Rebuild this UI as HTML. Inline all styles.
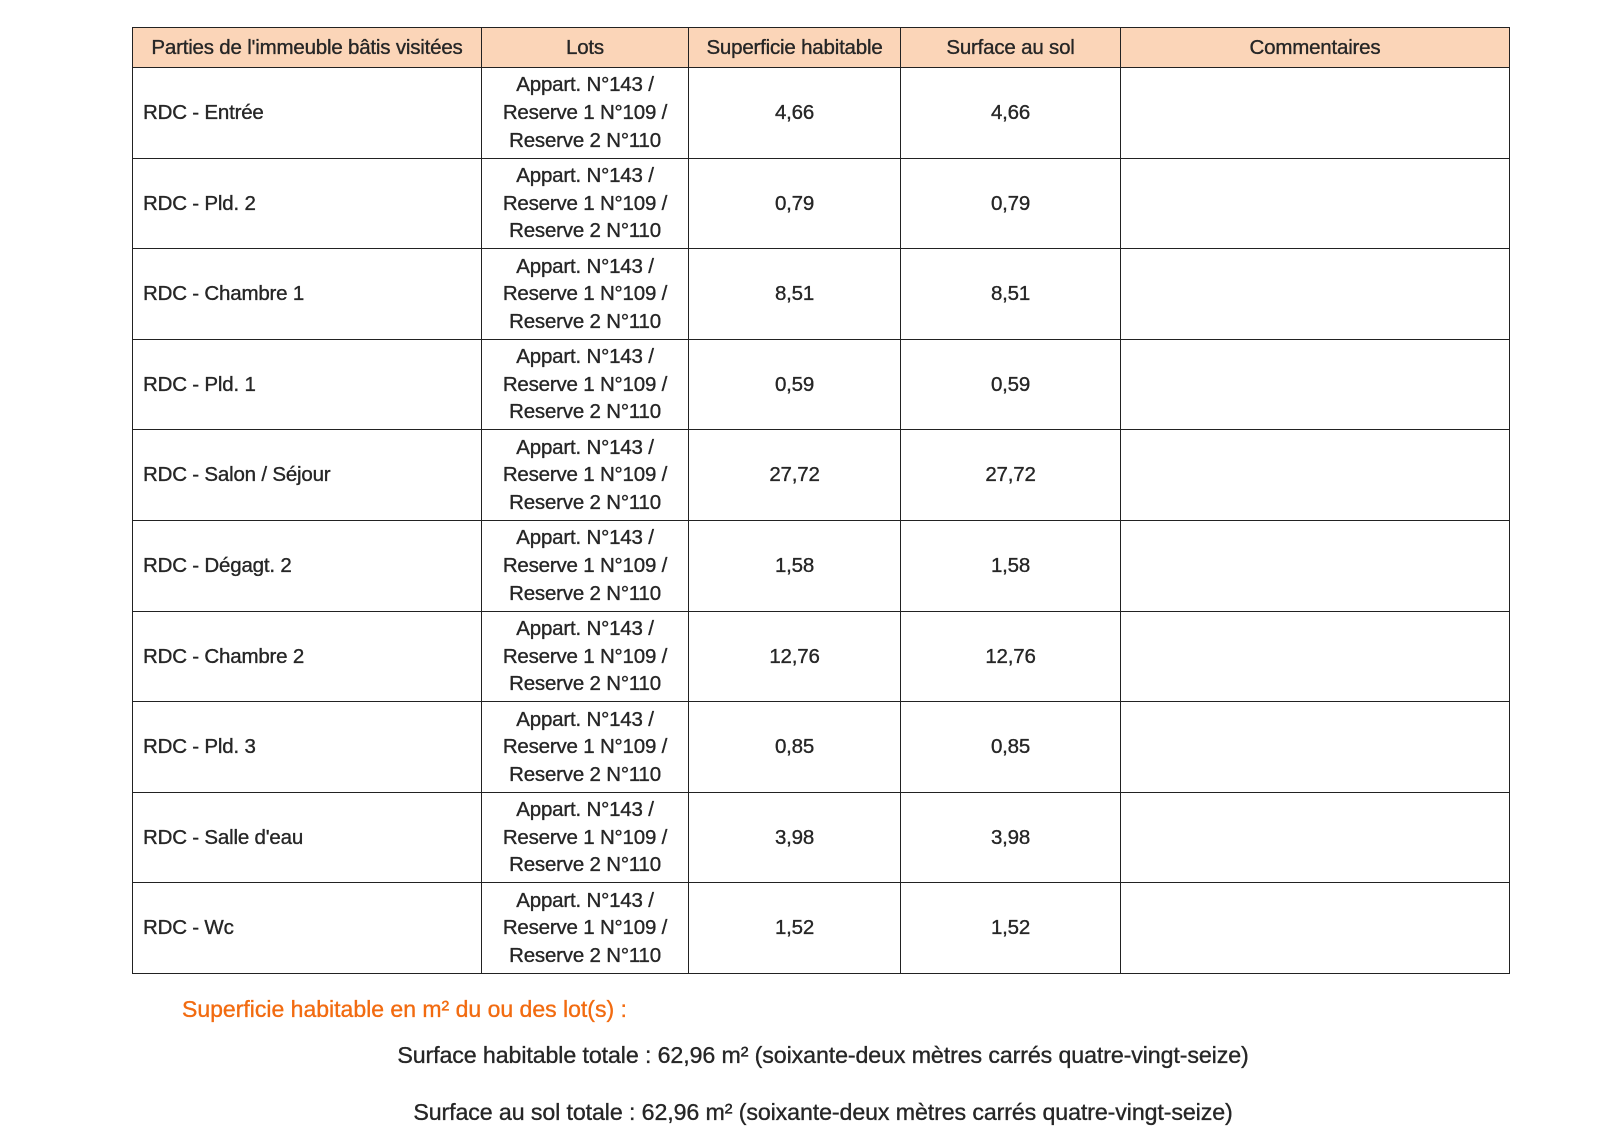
<!DOCTYPE html>
<html><head><meta charset="utf-8"><style>
body{margin:0;width:1600px;height:1133px;background:#fff;position:relative;font-family:"Liberation Sans",sans-serif;color:#262626;overflow:hidden;-webkit-text-stroke:0.35px #262626}
table{position:absolute;left:132px;top:27px;border-collapse:collapse;table-layout:fixed;width:1377px}
td,th{border:1.5px solid #222;padding:0;font-size:20.5px;letter-spacing:-0.2px;line-height:27.6px;text-align:center;font-weight:normal}
th{background:#fbd5b8;height:39px}
td{height:89.6px}
td.l{text-align:left;padding-left:10px}
.o{position:absolute;left:182px;top:996px;color:#f26b10;-webkit-text-stroke:0.35px #f26b10;font-size:23px;letter-spacing:0px}
.s{position:absolute;left:0;width:1646px;text-align:center;font-size:23.2px;letter-spacing:-0.1px}
</style></head><body>
<table>
<colgroup><col style="width:349px"><col style="width:207px"><col style="width:212px"><col style="width:220px"><col style="width:389px"></colgroup>
<tr><th>Parties de l'immeuble bâtis visitées</th><th>Lots</th><th>Superficie habitable</th><th>Surface au sol</th><th>Commentaires</th></tr>
<tr><td class="l">RDC - Entrée</td><td>Appart. N°143 /<br>Reserve 1 N°109 /<br>Reserve 2 N°110</td><td>4,66</td><td>4,66</td><td></td></tr>
<tr><td class="l">RDC - Pld. 2</td><td>Appart. N°143 /<br>Reserve 1 N°109 /<br>Reserve 2 N°110</td><td>0,79</td><td>0,79</td><td></td></tr>
<tr><td class="l">RDC - Chambre 1</td><td>Appart. N°143 /<br>Reserve 1 N°109 /<br>Reserve 2 N°110</td><td>8,51</td><td>8,51</td><td></td></tr>
<tr><td class="l">RDC - Pld. 1</td><td>Appart. N°143 /<br>Reserve 1 N°109 /<br>Reserve 2 N°110</td><td>0,59</td><td>0,59</td><td></td></tr>
<tr><td class="l">RDC - Salon / Séjour</td><td>Appart. N°143 /<br>Reserve 1 N°109 /<br>Reserve 2 N°110</td><td>27,72</td><td>27,72</td><td></td></tr>
<tr><td class="l">RDC - Dégagt. 2</td><td>Appart. N°143 /<br>Reserve 1 N°109 /<br>Reserve 2 N°110</td><td>1,58</td><td>1,58</td><td></td></tr>
<tr><td class="l">RDC - Chambre 2</td><td>Appart. N°143 /<br>Reserve 1 N°109 /<br>Reserve 2 N°110</td><td>12,76</td><td>12,76</td><td></td></tr>
<tr><td class="l">RDC - Pld. 3</td><td>Appart. N°143 /<br>Reserve 1 N°109 /<br>Reserve 2 N°110</td><td>0,85</td><td>0,85</td><td></td></tr>
<tr><td class="l">RDC - Salle d'eau</td><td>Appart. N°143 /<br>Reserve 1 N°109 /<br>Reserve 2 N°110</td><td>3,98</td><td>3,98</td><td></td></tr>
<tr><td class="l">RDC - Wc</td><td>Appart. N°143 /<br>Reserve 1 N°109 /<br>Reserve 2 N°110</td><td>1,52</td><td>1,52</td><td></td></tr>
</table>
<div class="o">Superficie habitable en m² du ou des lot(s) :</div>
<div class="s" style="top:1042px">Surface habitable totale : 62,96 m² (soixante-deux mètres carrés quatre-vingt-seize)</div>
<div class="s" style="top:1099px">Surface au sol totale : 62,96 m² (soixante-deux mètres carrés quatre-vingt-seize)</div>
</body></html>
